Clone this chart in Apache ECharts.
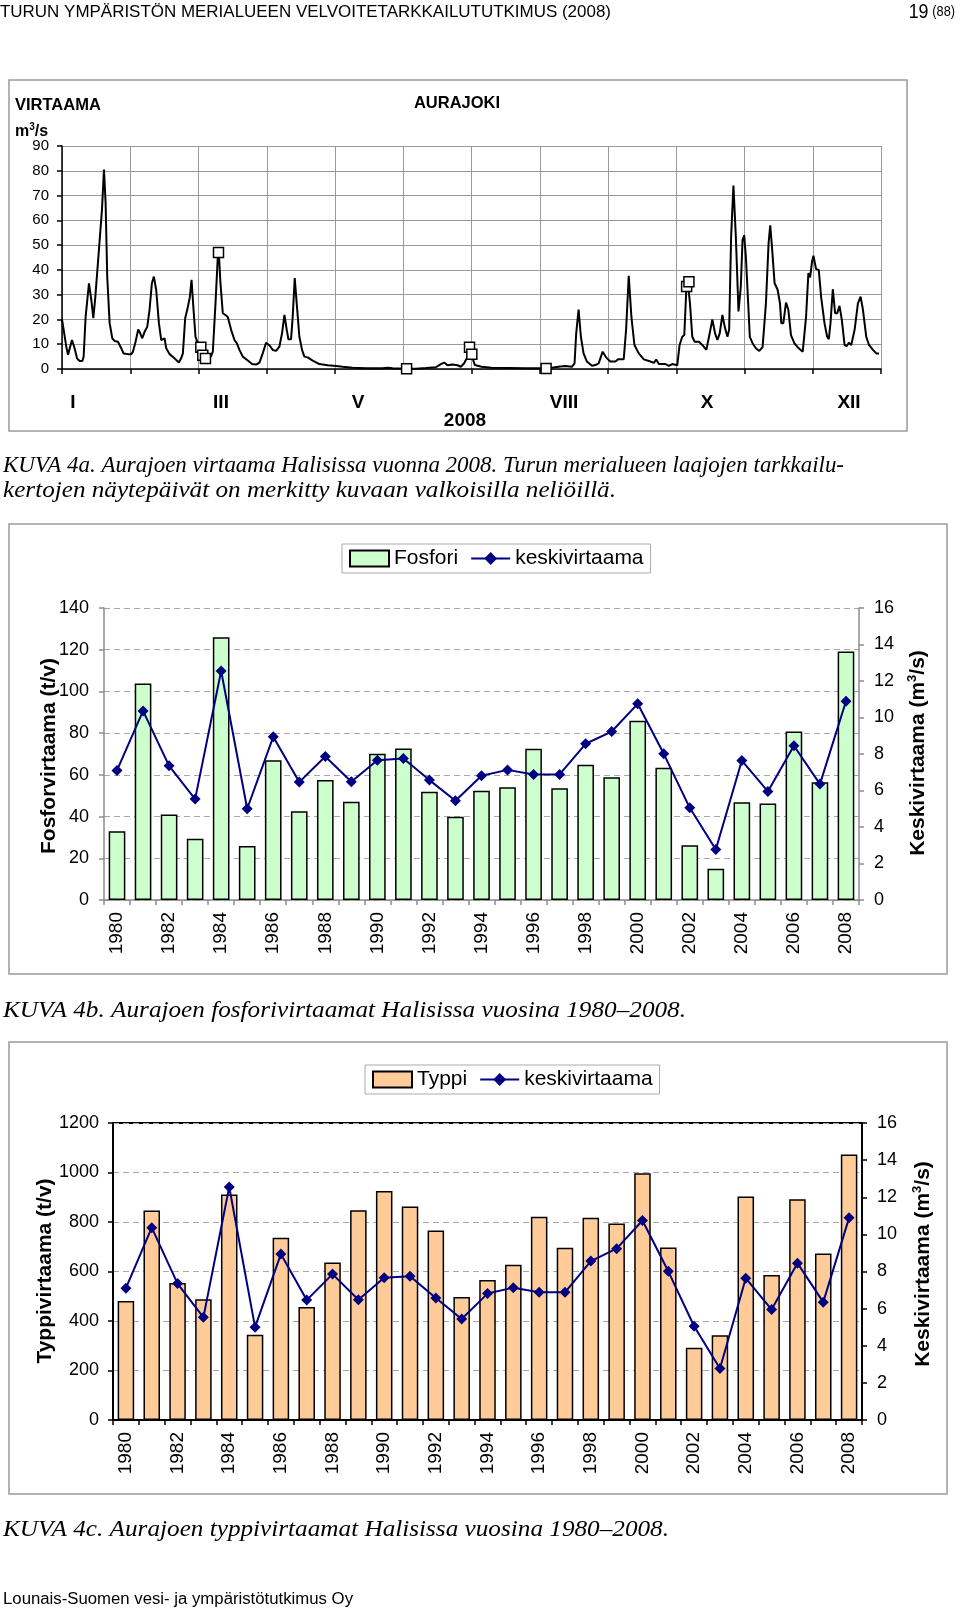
<!DOCTYPE html>
<html><head><meta charset="utf-8">
<script src="https://cdn.jsdelivr.net/npm/echarts@6/dist/echarts.min.js"></script>
<style>html,body{margin:0;padding:0;background:#fff}#c{width:960px;height:1612px}</style>
</head><body><div id="c"></div>
<script>
// ---------- DATA ----------
// Hydrograph (Aurajoki 2008): position in months from 1 Jan (each month = 1 unit), flow m3/s
const flowMonth = [0,0.063,0.088,0.112,0.146,0.185,0.220,0.259,0.298,0.317,0.346,0.395,0.429,0.459,0.488,0.527,0.551,0.585,0.615,0.639,0.663,0.698,0.737,0.771,0.820,0.868,0.902,0.966,1.015,1.039,1.078,1.117,1.146,1.176,1.210,1.249,1.283,1.317,1.346,1.380,1.420,1.454,1.478,1.502,1.527,1.576,1.649,1.712,1.746,1.771,1.805,1.844,1.873,1.898,1.927,1.956,1.990,2.015,2.039,2.073,2.137,2.185,2.210,2.249,2.283,2.298,2.322,2.356,2.395,2.429,2.478,2.527,2.561,2.600,2.649,2.722,2.785,2.844,2.893,2.941,2.990,3.039,3.088,3.137,3.185,3.224,3.259,3.293,3.317,3.356,3.380,3.410,3.439,3.478,3.517,3.551,3.600,3.624,3.673,3.771,3.893,4.015,4.112,4.259,4.454,4.698,4.771,4.844,5.039,5.185,5.332,5.478,5.551,5.600,5.649,5.722,5.795,5.844,5.893,5.941,5.990,6.049,6.147,6.294,6.539,6.784,6.980,7.127,7.275,7.373,7.471,7.510,7.534,7.569,7.603,7.642,7.691,7.765,7.814,7.863,7.922,7.971,8.034,8.108,8.147,8.230,8.265,8.304,8.343,8.387,8.451,8.525,8.623,8.672,8.706,8.745,8.843,8.892,8.941,9.015,9.049,9.088,9.118,9.147,9.176,9.201,9.235,9.270,9.333,9.382,9.441,9.490,9.529,9.569,9.603,9.637,9.676,9.711,9.750,9.775,9.804,9.838,9.873,9.912,9.946,9.971,9.995,10.020,10.054,10.078,10.118,10.167,10.216,10.265,10.314,10.353,10.377,10.402,10.441,10.485,10.520,10.539,10.569,10.608,10.642,10.681,10.730,10.779,10.853,10.877,10.902,10.936,10.961,10.990,11.010,11.049,11.088,11.123,11.172,11.211,11.235,11.260,11.294,11.328,11.358,11.392,11.426,11.466,11.500,11.529,11.564,11.613,11.662,11.701,11.735,11.784,11.824,11.882,11.931,11.971];
const flowValue = [20,9,5.7,5.7,11.7,8.4,4.3,3.2,3.2,5,21,34.6,28,20.5,29,43,43,64,80.5,67,37,18.5,12.4,11.3,11,8.4,6.3,6,6,7,11,16,14.4,12.4,15,17,24,34.6,37.3,32,18.5,11.7,11,12.4,8.4,6,4.3,2.6,4.3,6.3,20.5,25,29,36,24,13,10.4,8.4,5.7,4.3,4.3,5.2,7,26.5,45.4,47,34.6,22.5,21.8,21,15.8,11.7,10.4,7.7,5,3.4,2,1.8,2.6,6.3,10.6,9.6,7.7,7.3,9,14.4,21.8,15.8,12,12,21,36.7,26.5,13,7.7,5,4.7,5,3.4,2,1.5,1.2,0.9,0.5,0.3,0.3,0.5,0.3,0.15,0.15,0.4,0.7,2,2.6,1.5,1.8,1.5,0.9,2.3,5,6.5,1.6,0.9,0.5,0.4,0.3,0.3,0.3,0.9,1.2,0.9,2.3,14.4,24,13,6.3,3,1.3,1.6,2.3,7,4.7,3,3,3.9,3.9,15.8,37.6,21,9.7,6.3,3.9,3,2.5,3.8,2,2,1.3,2,1.5,9.7,13,13.7,32,33.3,26.5,13,11,11,9.7,7.7,14.4,20,14.4,11.7,14.4,21.8,17,13,15.8,53.5,74,53.5,23.2,33.3,52,54,45.4,26.5,13,10.4,8.4,7.3,8.8,26.5,50.8,58,49.5,34.6,32,26.5,18.5,18.5,26.8,24,13.7,10.4,8.8,7,6.7,21,38.7,37,43.4,45.7,40.3,40,29,18.5,13,12,18.5,32.2,22.5,22.5,25.5,19.8,9.7,9.3,10.6,9.7,15.8,26.5,29.2,24,13,9.7,7.7,6.3,6.3];
// Sampling days (white squares)
const sampleMonth = [2.034,2.063,2.102,2.293,5.049,5.971,6.005,7.093,9.152,9.186];
const sampleValue = [8.8,5.5,4.2,47,0.1,8.8,6,0.2,33.3,35.2];
const monthLabels = ['I','III','V','VIII','X','XII'];

const years = [];
for (let y = 1980; y <= 2008; y++) years.push(String(y));
const fosfori = [33.0,103.8,41.0,29.4,126.0,25.9,67.0,42.5,57.5,47.1,70.1,72.6,51.9,39.9,52.4,54.0,72.5,53.6,64.8,58.9,85.9,63.4,26.2,15.0,46.9,46.3,80.8,56.5,119.1];
const typpi = [481,846,554,488,911,344,736,457,636,847,925,863,766,497,566,627,821,696,817,794,997,697,292,342,903,586,892,673,1073];
const keskivirtaama = [7.10,10.36,7.35,5.53,12.55,5.00,8.94,6.46,7.86,6.48,7.66,7.75,6.57,5.44,6.81,7.13,6.88,6.88,8.56,9.23,10.75,8.01,5.05,2.77,7.64,5.95,8.45,6.35,10.89];

// ---------- LAYOUT ----------
const SANS = '"Liberation Sans", Arial, sans-serif';
const SERIF = '"Liberation Serif", "Times New Roman", serif';
const monthLabelX = [73,221,358,564,707,849];
const G1 = {left:62, top:146, width:819, height:223};
const G2 = {left:104, top:608, width:755, height:292};
const G3 = {left:113, top:1123, width:749, height:297};

const mctx = document.createElement('canvas').getContext('2d');
function fit(text, font, target){ mctx.font = font; return target / mctx.measureText(text).width; }

function txt(x, y, text, font, opts){
  opts = opts || {};
  const el = {type:'text', x:x, y:y, z:100,
    style:{text:text, font:font, fill:'#000', textAlign:opts.align||'left', align:opts.align||'left',
      textVerticalAlign:'middle', verticalAlign:'middle'}};
  if (opts.scaleX) el.scaleX = opts.scaleX;
  if (opts.rotation) el.rotation = opts.rotation;
  if (opts.rich) el.style.rich = opts.rich;
  return el;
}
function box(x,y,w,h){ return {type:'rect', z:-1, shape:{x:x,y:y,width:w,height:h}, style:{fill:'none', stroke:'#9a9a9a', lineWidth:1.5}}; }

const hdr = 'TURUN YMPÄRISTÖN MERIALUEEN VELVOITETARKKAILUTUTKIMUS (2008)';
const hdrFont = '17px ' + SANS;
const cap1a = 'KUVA 4a. Aurajoen virtaama Halisissa vuonna 2008. Turun merialueen laajojen tarkkailu-';
const cap1b = 'kertojen näytepäivät on merkitty kuvaan valkoisilla neliöillä.';
const cap2 = 'KUVA 4b. Aurajoen fosforivirtaamat Halisissa vuosina 1980–2008.';
const cap3 = 'KUVA 4c. Aurajoen typpivirtaamat Halisissa vuosina 1980–2008.';
const foot = 'Lounais-Suomen vesi- ja ympäristötutkimus Oy';
const capFont = 'italic 23px ' + SERIF;
const footFont = '16px ' + SANS;

const graphics = [
  box(9,80,898,351), box(9,524,938,450), box(9,1042,938,452),
  txt(0,12,hdr,hdrFont,{scaleX:fit(hdr,hdrFont,611)}),
  txt(955,12,'{a|19} {b|(88)}','16px '+SANS,{align:'right',scaleX:0.85,rich:{a:{fontSize:21,fontFamily:'Liberation Sans'},b:{fontSize:15,fontFamily:'Liberation Sans'}}}),
  txt(15,105,'VIRTAAMA','bold 16.5px '+SANS),
  txt(15,132,'{a|m}{s|3}{a|/s}','bold 16px '+SANS,{rich:{a:{fontSize:16,fontWeight:'bold',fontFamily:'Liberation Sans',lineHeight:19},s:{fontSize:10,fontWeight:'bold',fontFamily:'Liberation Sans',verticalAlign:'top',lineHeight:19}}}),
  txt(457,103,'AURAJOKI','bold 16.5px '+SANS,{align:'center'}),
  txt(465,421,'2008','bold 19px '+SANS,{align:'center'}),
  txt(3,466,cap1a,capFont,{scaleX:fit(cap1a,capFont,841)}),
  txt(3,491,cap1b,capFont,{scaleX:fit(cap1b,capFont,613)}),
  txt(3,1011,cap2,capFont,{scaleX:fit(cap2,capFont,683)}),
  txt(3,1530,cap3,capFont,{scaleX:fit(cap3,capFont,666)}),
  txt(3,1600,foot,footFont,{scaleX:fit(foot,footFont,350)}),
  txt(49,756,'Fosforvirtaama (t/v)','bold 21px '+SANS,{align:'center',rotation:Math.PI/2}),
  txt(45,1271,'Typpivirtaama (t/v)','bold 21px '+SANS,{align:'center',rotation:Math.PI/2}),
];
const richTitle = {b:{fontSize:21,fontWeight:'bold',fontFamily:'Liberation Sans',lineHeight:25},s:{fontSize:13,fontWeight:'bold',fontFamily:'Liberation Sans',verticalAlign:'top',lineHeight:25}};
graphics.push(txt(918,753,'{b|Keskivirtaama (m}{s|3}{b|/s)}','bold 21px '+SANS,{align:'center',rotation:Math.PI/2,rich:richTitle}));
graphics.push(txt(923,1264,'{b|Keskivirtaama (m}{s|3}{b|/s)}','bold 21px '+SANS,{align:'center',rotation:Math.PI/2,rich:richTitle}));
monthLabels.forEach((m,i)=>graphics.push(txt(monthLabelX[i],403,m,'bold 19px '+SANS,{align:'center'})));

const axLbl = (size, margin) => ({fontSize:size, color:'#000', fontFamily:SANS, margin:margin});
const grayLine = {lineStyle:{color:'#8c8c8c', width:1.5}};
const dashed = {show:true, lineStyle:{color:'#a8a8a8', type:[6,4], width:1.2}};
const plain = v => String(v);

const chart = echarts.init(document.getElementById('c'), null, {renderer:'canvas'});
chart.setOption({
  animation:false,
  backgroundColor:'#fff',
  textStyle:{fontFamily:SANS},
  grid:[Object.assign({outerBoundsMode:'none'},G1), Object.assign({outerBoundsMode:'none'},G2),
        Object.assign({outerBoundsMode:'none', show:true, borderColor:'#000', borderWidth:2, backgroundColor:'transparent'},G3)],
  legend:[
    {data:[{name:'Fosfori',icon:'rect'},'keskivirtaama'], left:342, top:544, orient:'horizontal',
     itemWidth:39, itemHeight:16, itemGap:12, padding:[4,7], borderColor:'#aaa', borderWidth:1, backgroundColor:'#fff',
     textStyle:{fontSize:21, color:'#000', fontFamily:SANS}, selectedMode:false},
    {data:[{name:'Typpi',icon:'rect'},'keskivirtaama'], left:365, top:1065, orient:'horizontal',
     itemWidth:39, itemHeight:16, itemGap:12, padding:[4,7], borderColor:'#aaa', borderWidth:1, backgroundColor:'#fff',
     textStyle:{fontSize:21, color:'#000', fontFamily:SANS}, selectedMode:false}
  ],
  xAxis:[
    {gridIndex:0, type:'value', min:0, max:12, interval:1,
     axisLine:{show:true, onZero:false, lineStyle:{color:'#000', width:1.5}},
     axisTick:{show:true, length:5, lineStyle:{color:'#000', width:1.5}},
     axisLabel:{show:false}, splitLine:{show:true, lineStyle:{color:'#9a9a9a', width:1}}},
    {gridIndex:1, type:'category', data:years, boundaryGap:true,
     axisLine:Object.assign({show:true},grayLine), axisTick:{show:true, interval:0, length:5, lineStyle:{color:'#8c8c8c', width:1.5}},
     axisLabel:Object.assign({interval:1, rotate:90}, axLbl(19,12)), splitLine:{show:false}},
    {gridIndex:2, type:'category', data:years, boundaryGap:true,
     axisLine:{show:true, lineStyle:{color:'#000', width:2}}, axisTick:{show:true, interval:0, length:5, lineStyle:{color:'#000', width:1.5}},
     axisLabel:Object.assign({interval:1, rotate:90}, axLbl(19,12)), splitLine:{show:false}}
  ],
  yAxis:[
    {gridIndex:0, type:'value', min:0, max:90, interval:10,
     axisLine:{show:true, lineStyle:{color:'#000', width:1.5}}, axisTick:{show:true, length:5, lineStyle:{color:'#000', width:1.5}},
     axisLabel:Object.assign({formatter:plain}, axLbl(15,13)), splitLine:{show:true, lineStyle:{color:'#9a9a9a', width:1}}},
    {gridIndex:1, type:'value', min:0, max:140, interval:20, position:'left',
     axisLine:Object.assign({show:true},grayLine), axisTick:{show:true, length:5, lineStyle:{color:'#8c8c8c', width:1.5}},
     axisLabel:Object.assign({formatter:plain}, axLbl(18,15)), splitLine:dashed},
    {gridIndex:1, type:'value', min:0, max:16, interval:2, position:'right',
     axisLine:Object.assign({show:true},grayLine), axisTick:{show:true, length:5, lineStyle:{color:'#8c8c8c', width:1.5}},
     axisLabel:Object.assign({formatter:plain}, axLbl(18,15)), splitLine:{show:false}},
    {gridIndex:2, type:'value', min:0, max:1200, interval:200, position:'left',
     axisLine:{show:true, lineStyle:{color:'#000', width:2}}, axisTick:{show:true, length:5, lineStyle:{color:'#000', width:1.5}},
     axisLabel:Object.assign({formatter:plain}, axLbl(18,14)), splitLine:dashed},
    {gridIndex:2, type:'value', min:0, max:16, interval:2, position:'right',
     axisLine:{show:true, lineStyle:{color:'#000', width:2}}, axisTick:{show:true, length:5, lineStyle:{color:'#000', width:1.5}},
     axisLabel:Object.assign({formatter:plain}, axLbl(18,15)), splitLine:{show:false}}
  ],
  series:[
    {name:'virtaama', type:'line', xAxisIndex:0, yAxisIndex:0, showSymbol:false, symbol:'none',
     data:flowMonth.map((m,i)=>[m, flowValue[i]]), lineStyle:{color:'#000', width:2}, z:3},
    {name:'näytepäivät', type:'scatter', xAxisIndex:0, yAxisIndex:0, symbol:'rect', symbolSize:10,
     data:sampleMonth.map((m,i)=>[m, sampleValue[i]]), itemStyle:{color:'#fff', borderColor:'#000', borderWidth:1.5, opacity:1}, z:5},
    {name:'Fosfori', type:'bar', xAxisIndex:1, yAxisIndex:1, data:fosfori, barWidth:'64%',
     itemStyle:{color:'#CCFFCC', borderColor:'#000', borderWidth:1.5}},
    {name:'keskivirtaama', type:'line', xAxisIndex:1, yAxisIndex:2, data:keskivirtaama, symbol:'diamond', symbolSize:11,
     lineStyle:{color:'#000080', width:2}, itemStyle:{color:'#000080'}, z:4},
    {name:'Typpi', type:'bar', xAxisIndex:2, yAxisIndex:3, data:typpi, barWidth:'64%',
     itemStyle:{color:'#FFCC99', borderColor:'#000', borderWidth:1.5}},
    {name:'keskivirtaama', type:'line', xAxisIndex:2, yAxisIndex:4, data:keskivirtaama, symbol:'diamond', symbolSize:11,
     lineStyle:{color:'#000080', width:2}, itemStyle:{color:'#000080'}, z:4}
  ],
  graphic:graphics
});
</script></body></html>
